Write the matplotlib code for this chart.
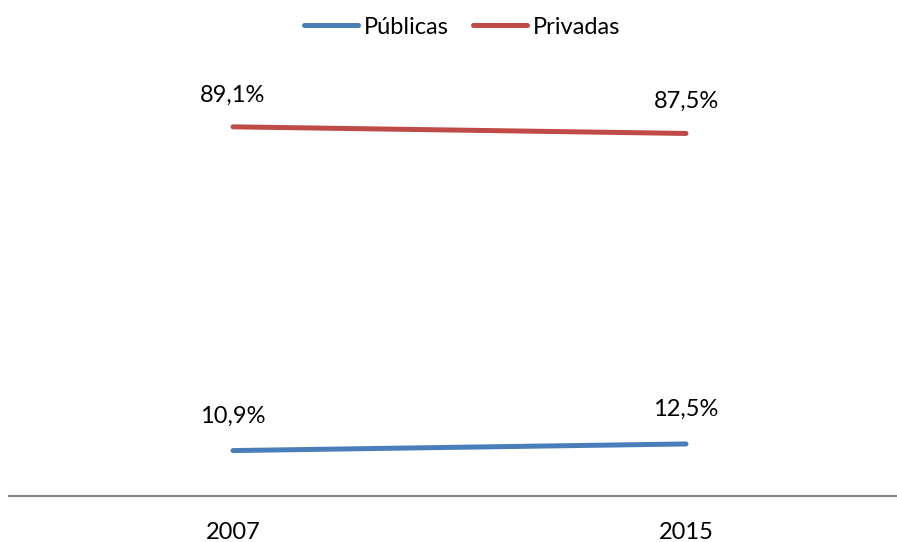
import matplotlib.pyplot as plt

# Datos
anos = ["2007", "2015"]
publicas = [10.9, 12.5]
privadas = [89.1, 87.5]
etiquetas_pub = ["10,9%", "12,5%"]
etiquetas_priv = ["89,1%", "87,5%"]

plt.rcParams['font.family'] = ['Lato', 'DejaVu Sans']
tam = 17

fig = plt.figure(figsize=(8.97, 5.42), dpi=100)
ax = fig.add_axes([9 / 897, 46.3 / 542, 887 / 897, 414 / 542])

x = range(len(anos))
azul = '#4A7EBB'
rojo = '#BE4B48'
ax.plot(x, publicas, color=azul, lw=3.6, solid_capstyle='round', label='Públicas')
ax.plot(x, privadas, color=rojo, lw=3.6, solid_capstyle='round', label='Privadas')

for xi, v, t in zip(x, publicas, etiquetas_pub):
    ax.annotate(t, (xi, v), xytext=(0, 25), textcoords='offset points',
                ha='center', va='center', fontsize=tam, color='black')
for xi, v, t in zip(x, privadas, etiquetas_priv):
    ax.annotate(t, (xi, v), xytext=(0, 23), textcoords='offset points',
                ha='center', va='center', fontsize=tam, color='black')

ax.set_xlim(-224 / 453, 1 + 210 / 453)
ax.set_ylim(0, 100)
ax.set_xticks(list(x))
ax.set_xticklabels(anos, fontsize=tam)
ax.tick_params(axis='x', length=0, pad=19)
ax.set_yticks([])
for lado in ['top', 'right', 'left']:
    ax.spines[lado].set_visible(False)
ax.spines['bottom'].set_color('#868686')
ax.spines['bottom'].set_linewidth(1.5)

fig.legend(loc='center', bbox_to_anchor=(462 / 897, 1 - 27 / 542), ncol=2, frameon=False,
           fontsize=tam, handlelength=2.3, handletextpad=0.25, columnspacing=1.0)

fig.savefig('out.png', dpi=100)
